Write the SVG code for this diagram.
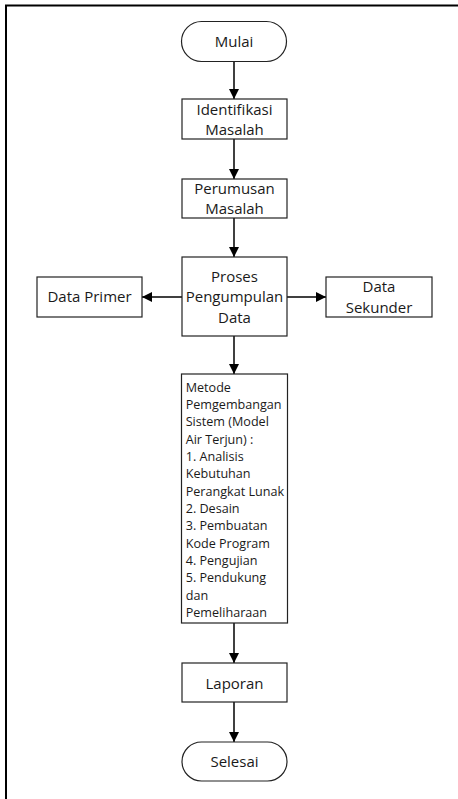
<svg xmlns="http://www.w3.org/2000/svg" width="458" height="799" viewBox="0 0 458 799">
<style>
.box{fill:#fff;stroke:#222;stroke-width:1.2}
.t{font-family:"Open Sans","Noto Sans","Liberation Sans",sans-serif;font-size:15px;fill:#1a1a1a}
.s{font-size:12.6px}
.c{text-anchor:middle}
.ln{stroke:#000;stroke-width:1.5;fill:none}
</style>
<defs>
<marker id="ah" markerWidth="10" markerHeight="10" refX="10" refY="5" orient="auto" markerUnits="userSpaceOnUse">
<path d="M0,0 L10,5 L0,10 Z" fill="#000"/>
</marker>
</defs>
<rect x="6" y="5.5" width="460" height="800" fill="none" stroke="#000" stroke-width="2"/>
<g id="connectors">
<line class="ln" x1="234" y1="62" x2="234" y2="99" marker-end="url(#ah)"/>
<line class="ln" x1="234" y1="139" x2="234" y2="179" marker-end="url(#ah)"/>
<line class="ln" x1="234" y1="218" x2="234" y2="257" marker-end="url(#ah)"/>
<line class="ln" x1="182" y1="297" x2="142" y2="297" marker-end="url(#ah)"/>
<line class="ln" x1="287" y1="297" x2="326" y2="297" marker-end="url(#ah)"/>
<line class="ln" x1="234" y1="336" x2="234" y2="374" marker-end="url(#ah)"/>
<line class="ln" x1="234" y1="623" x2="234" y2="663" marker-end="url(#ah)"/>
<line class="ln" x1="234" y1="702" x2="234" y2="742" marker-end="url(#ah)"/>
</g>
<g id="mulai">
<rect class="box" x="181.5" y="21.5" width="105" height="40" rx="20" ry="20"/>
<text class="t c" x="234" y="46.7">Mulai</text>
</g>
<g id="identifikasi">
<rect class="box" x="182" y="99" width="105" height="40"/>
<text class="t c" x="234.5" y="115">Identifikasi</text>
<text class="t c" x="234.5" y="135">Masalah</text>
</g>
<g id="perumusan">
<rect class="box" x="182" y="179" width="105" height="39"/>
<text class="t c" x="234.5" y="194.3">Perumusan</text>
<text class="t c" x="234.5" y="214.3">Masalah</text>
</g>
<g id="proses">
<rect class="box" x="182" y="257" width="105" height="79"/>
<text class="t c" x="234.5" y="281.7">Proses</text>
<text class="t c" x="234.5" y="302.3">Pengumpulan</text>
<text class="t c" x="234.5" y="322.7">Data</text>
</g>
<g id="data-primer">
<rect class="box" x="37" y="277" width="105" height="40"/>
<text class="t c" x="89.5" y="302.3">Data Primer</text>
</g>
<g id="data-sekunder">
<rect class="box" x="326" y="277" width="106" height="40"/>
<text class="t c" x="379" y="291.7">Data</text>
<text class="t c" x="379" y="313">Sekunder</text>
</g>
<g id="metode">
<rect class="box" x="181.5" y="374" width="106" height="249"/>
<text class="t s" x="185.7" y="391.7">Metode</text>
<text class="t s" x="185.7" y="409">Pemgembangan</text>
<text class="t s" x="185.7" y="426.4">Sistem (Model</text>
<text class="t s" x="185.7" y="443.7">Air Terjun) :</text>
<text class="t s" x="185.7" y="461">1. Analisis</text>
<text class="t s" x="185.7" y="478.4">Kebutuhan</text>
<text class="t s" x="185.7" y="495.7">Perangkat Lunak</text>
<text class="t s" x="185.7" y="513">2. Desain</text>
<text class="t s" x="185.7" y="530.3">3. Pembuatan</text>
<text class="t s" x="185.7" y="547.7">Kode Program</text>
<text class="t s" x="185.7" y="565">4. Pengujian</text>
<text class="t s" x="185.7" y="582.3">5. Pendukung</text>
<text class="t s" x="185.7" y="599.7">dan</text>
<text class="t s" x="185.7" y="617">Pemeliharaan</text>
</g>
<g id="laporan">
<rect class="box" x="182" y="663" width="105" height="39"/>
<text class="t c" x="234.5" y="689">Laporan</text>
</g>
<g id="selesai">
<rect class="box" x="182" y="742" width="105" height="39" rx="19.5" ry="19.5"/>
<text class="t c" x="234.5" y="767.3">Selesai</text>
</g>
</svg>
